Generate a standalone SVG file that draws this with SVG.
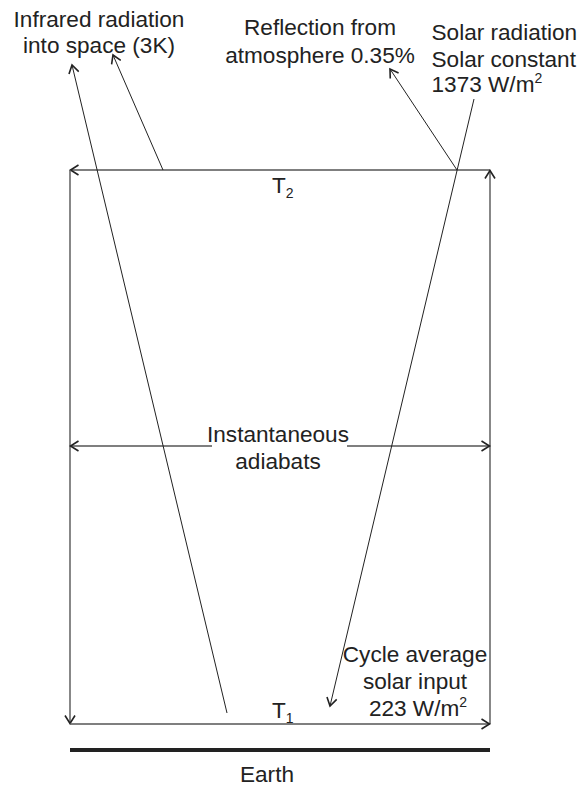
<svg xmlns="http://www.w3.org/2000/svg" width="580" height="786" viewBox="0 0 580 786">
<style>
text{font-family:"Liberation Sans",Arial,sans-serif;font-size:22.6px;fill:#222}
.c{text-anchor:middle}
.sub{font-size:14px}
.box{stroke:#555;stroke-width:1.4;fill:none}
.ray{stroke:#222;stroke-width:1;fill:none}
</style>
<defs>
<marker id="ah" viewBox="-10 -6 12 12" markerWidth="12" markerHeight="12" refX="0" refY="0" orient="auto" markerUnits="userSpaceOnUse">
<path d="M-8,-5 L0,0 L-8,5" fill="none" stroke="#222" stroke-width="1.6"/>
</marker>
</defs>
<g id="connectors">
<line class="box" x1="490" y1="170" x2="70.5" y2="170" marker-end="url(#ah)"/>
<line class="box" x1="490" y1="724" x2="490" y2="170.5" marker-end="url(#ah)"/>
<line class="box" x1="70" y1="170" x2="70" y2="723.5" marker-end="url(#ah)"/>
<line class="box" x1="70" y1="724" x2="489.5" y2="724" marker-end="url(#ah)"/>
<line class="box" x1="212" y1="446" x2="70.5" y2="446" marker-end="url(#ah)"/>
<line class="box" x1="347" y1="446" x2="489.5" y2="446" marker-end="url(#ah)"/>
<line class="ray" x1="227" y1="713" x2="72" y2="65" marker-end="url(#ah)"/>
<line class="ray" x1="163" y1="170" x2="113" y2="55" marker-end="url(#ah)"/>
<line class="ray" x1="457" y1="170" x2="390" y2="69" marker-end="url(#ah)"/>
<line class="ray" x1="474" y1="99" x2="330" y2="706" marker-end="url(#ah)"/>
</g>
<g id="earth">
<line x1="70" y1="750" x2="490" y2="750" stroke="#222" stroke-width="4"/>
<text class="c" x="267" y="782">Earth</text>
</g>
<g id="infrared">
<text class="c" x="99" y="26.5">Infrared radiation</text>
<text class="c" x="99" y="53">into space (3K)</text>
</g>
<g id="reflection">
<text class="c" x="320" y="35">Reflection from</text>
<text class="c" x="320" y="62.5">atmosphere 0.35%</text>
</g>
<g id="solar">
<text x="431.5" y="40">Solar radiation</text>
<text x="431.5" y="66.5">Solar constant</text>
<text x="431.5" y="92">1373 W/m<tspan class="sub" dy="-9">2</tspan></text>
</g>
<g id="t2">
<text x="272" y="193">T<tspan class="sub" dy="5">2</tspan></text>
</g>
<g id="adiabats">
<text class="c" x="278" y="441.5">Instantaneous</text>
<text class="c" x="278" y="468.5">adiabats</text>
</g>
<g id="cycle">
<text class="c" x="415" y="662">Cycle average</text>
<text class="c" x="415" y="689">solar input</text>
<text class="c" x="418" y="715.5">223 W/m<tspan class="sub" dy="-9">2</tspan></text>
</g>
<g id="t1">
<text x="272" y="718">T<tspan class="sub" dy="5">1</tspan></text>
</g>
</svg>
